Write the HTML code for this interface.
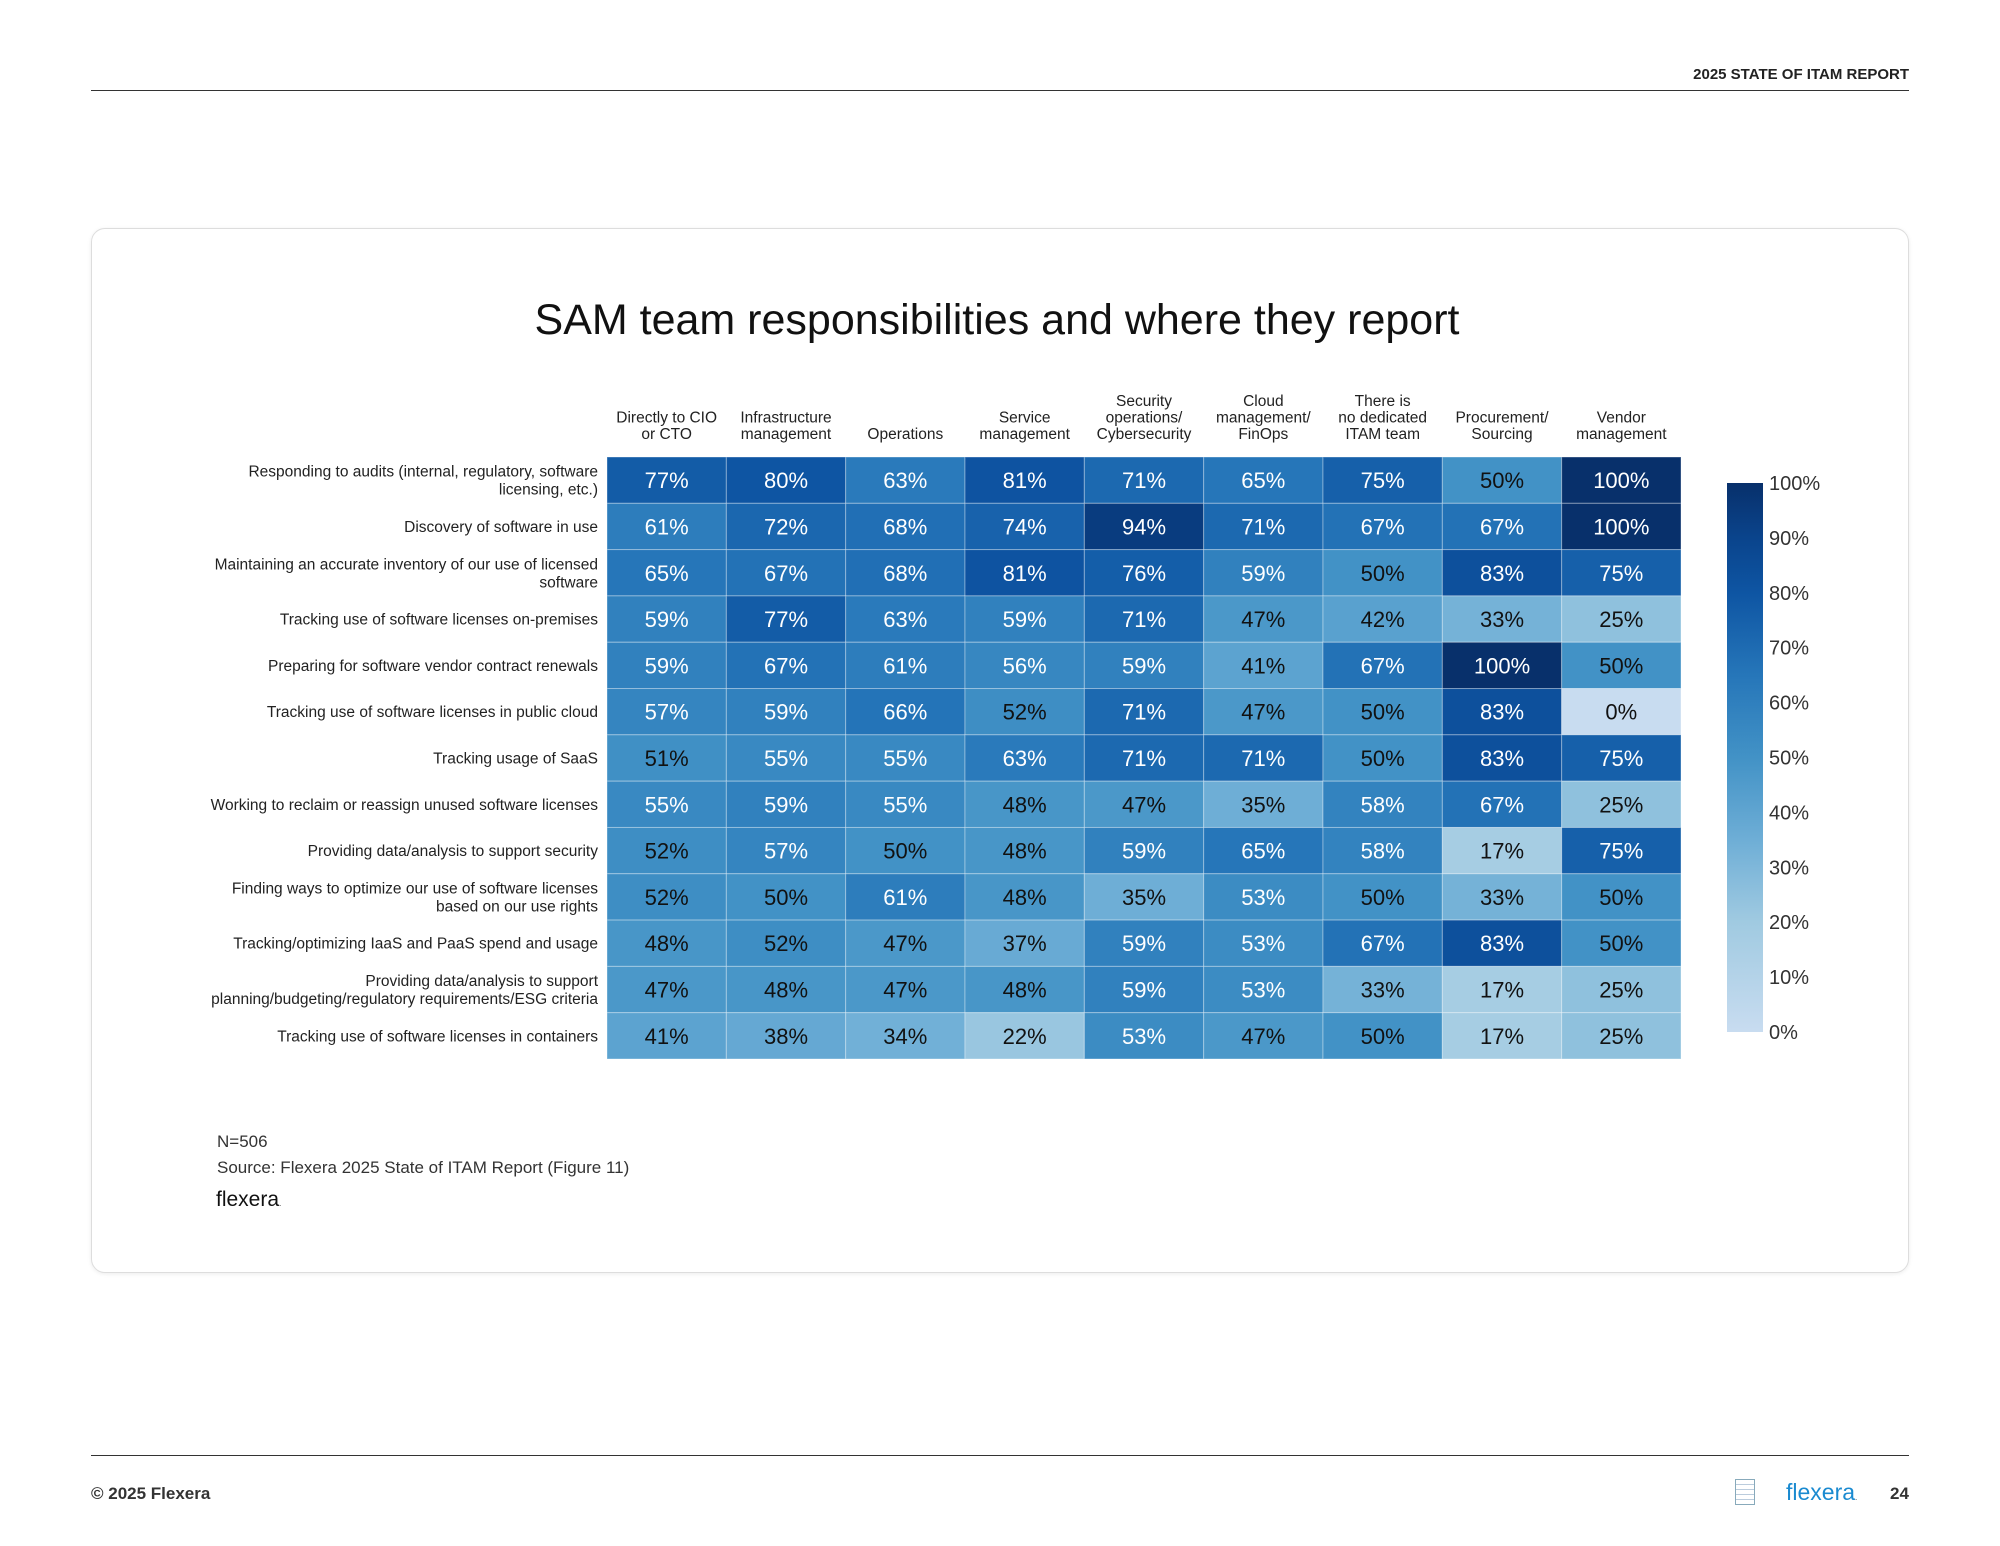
<!DOCTYPE html>
<html><head><meta charset="utf-8">
<style>
body{margin:0;width:2000px;height:1546px;background:#fff;font-family:"Liberation Sans",sans-serif;overflow:hidden;position:relative}
.abs{position:absolute}
</style></head>
<body>
<div class="abs" style="right:91px;top:66px;font-size:15px;font-weight:bold;color:#222">2025 STATE OF ITAM REPORT</div>
<div class="abs" style="left:91px;top:90px;width:1818px;height:1px;background:#333"></div>
<div class="abs" style="left:91px;top:228px;width:1816px;height:1043px;border:1px solid #ddd;border-radius:14px;box-shadow:0 1px 4px rgba(0,0,0,0.08)"></div>
<svg class="abs" style="left:0;top:0" width="2000" height="1546" id="chart"></svg>
<div class="abs" style="left:217px;top:1132px;font-size:17px;color:#333">N=506</div>
<div class="abs" style="left:217px;top:1158px;font-size:17px;color:#333">Source: Flexera 2025 State of ITAM Report (Figure 11)</div>
<div class="abs" style="left:216px;top:1188px;font-size:21px;color:#111">flexera<span style="font-size:8px">.</span></div>
<div class="abs" style="left:91px;top:1455px;width:1818px;height:1px;background:#333"></div>
<div class="abs" style="left:91px;top:1484px;font-size:17px;font-weight:bold;color:#333">© 2025 Flexera</div>
<div class="abs" style="left:1735px;top:1479px;width:18px;height:24px;border:1px solid #8ab;background:repeating-linear-gradient(#fff 0 4px,#bcd 4px 5px)"></div>
<div class="abs" style="left:1786px;top:1479px;font-size:23px;color:#1a8ad0">flex<span style="color:#1a8ad0">era</span><span style="font-size:8px;color:#333">.</span></div>
<div class="abs" style="left:1890px;top:1484px;font-size:17px;font-weight:bold;color:#333">24</div>
<script>
const columns=["Directly to CIO|or CTO","Infrastructure|management","Operations","Service|management","Security|operations/|Cybersecurity","Cloud|management/|FinOps","There is|no dedicated|ITAM team","Procurement/|Sourcing","Vendor|management"];
const rows=["Responding to audits (internal, regulatory, software|licensing, etc.)","Discovery of software in use","Maintaining an accurate inventory of our use of licensed|software","Tracking use of software licenses on-premises","Preparing for software vendor contract renewals","Tracking use of software licenses in public cloud","Tracking usage of SaaS","Working to reclaim or reassign unused software licenses","Providing data/analysis to support security","Finding ways to optimize our use of software licenses|based on our use rights","Tracking/optimizing IaaS and PaaS spend and usage","Providing data/analysis to support|planning/budgeting/regulatory requirements/ESG criteria","Tracking use of software licenses in containers"];
const values=[
[77,80,63,81,71,65,75,50,100],
[61,72,68,74,94,71,67,67,100],
[65,67,68,81,76,59,50,83,75],
[59,77,63,59,71,47,42,33,25],
[59,67,61,56,59,41,67,100,50],
[57,59,66,52,71,47,50,83,0],
[51,55,55,63,71,71,50,83,75],
[55,59,55,48,47,35,58,67,25],
[52,57,50,48,59,65,58,17,75],
[52,50,61,48,35,53,50,33,50],
[48,52,47,37,59,53,67,83,50],
[47,48,47,48,59,53,33,17,25],
[41,38,34,22,53,47,50,17,25]];
const ticks=[0,10,20,30,40,50,60,70,80,90,100];
const stops=[[0,[200,220,240]],[0.2,[160,202,225]],[0.35,[110,174,214]],[0.5,[66,146,198]],[0.65,[38,118,185]],[0.8,[14,85,163]],[0.9,[10,68,140]],[1,[8,48,107]]];
function color(v){v=v/100;for(let i=1;i<stops.length;i++){if(v<=stops[i][0]){const a=stops[i-1],b=stops[i],t=(v-a[0])/(b[0]-a[0]);const c=a[1].map((x,k)=>Math.round(x+(b[1][k]-x)*t));return `rgb(${c})`;}}return 'rgb(8,48,107)';}
const svg=document.getElementById('chart');const NS='http://www.w3.org/2000/svg';
function el(t,a,txt){const e=document.createElementNS(NS,t);for(const k in a)e.setAttribute(k,a[k]);if(txt!==undefined)e.textContent=txt;svg.appendChild(e);return e;}
const gx=607,gy=457,cw=(1681-607)/9,rh=(1059-457)/13;
const xAt=j=>gx+j*cw, yAt=i=>gy+i*rh;
let t=el('text',{x:997,y:334,'text-anchor':'middle','font-size':43,fill:'#111'},'SAM team responsibilities and where they report');


columns.forEach((c,j)=>{const ls=c.split('|');ls.forEach((l,k)=>{const e=el('text',{x:xAt(j)+cw/2,y:439-(ls.length-1-k)*16.5,'text-anchor':'middle','font-size':15.5,fill:'#222'},l);

});});
rows.forEach((r,i)=>{const ls=r.split('|');const cy=yAt(i)+rh/2;ls.forEach((l,k)=>{const e=el('text',{x:598,y:cy+5.5+(k-(ls.length-1)/2)*18,'text-anchor':'end','font-size':15.5,fill:'#222'},l);

});});
values.forEach((row,i)=>row.forEach((v,j)=>{const r=el('rect',{x:xAt(j),y:yAt(i),width:cw,height:rh,fill:color(v),stroke:'rgba(255,255,255,0.35)','stroke-width':1});


const tx=el('text',{x:xAt(j)+cw/2,y:yAt(i)+rh/2+8,'text-anchor':'middle','font-size':22,fill:v>=53?'#fff':'#111'},v+'%');

}));
const defs=el('defs',{});const lg=document.createElementNS(NS,'linearGradient');lg.setAttribute('id','cb');lg.setAttribute('x1',0);lg.setAttribute('y1',1);lg.setAttribute('x2',0);lg.setAttribute('y2',0);
stops.forEach(s=>{const st=document.createElementNS(NS,'stop');st.setAttribute('offset',s[0]);st.setAttribute('stop-color',`rgb(${s[1]})`);lg.appendChild(st);});defs.appendChild(lg);
const cbTop=483,cbBot=1032;const cyAt=v=>cbBot-(v/100)*(cbBot-cbTop);
const cb=el('rect',{x:1727,y:cbTop,width:36,height:cbBot-cbTop,fill:'url(#cb)'});


ticks.forEach(v=>{const e=el('text',{x:1769,y:cyAt(v)+7,'font-size':20,fill:'#333'},v+'%');

});
</script>
</body></html>
